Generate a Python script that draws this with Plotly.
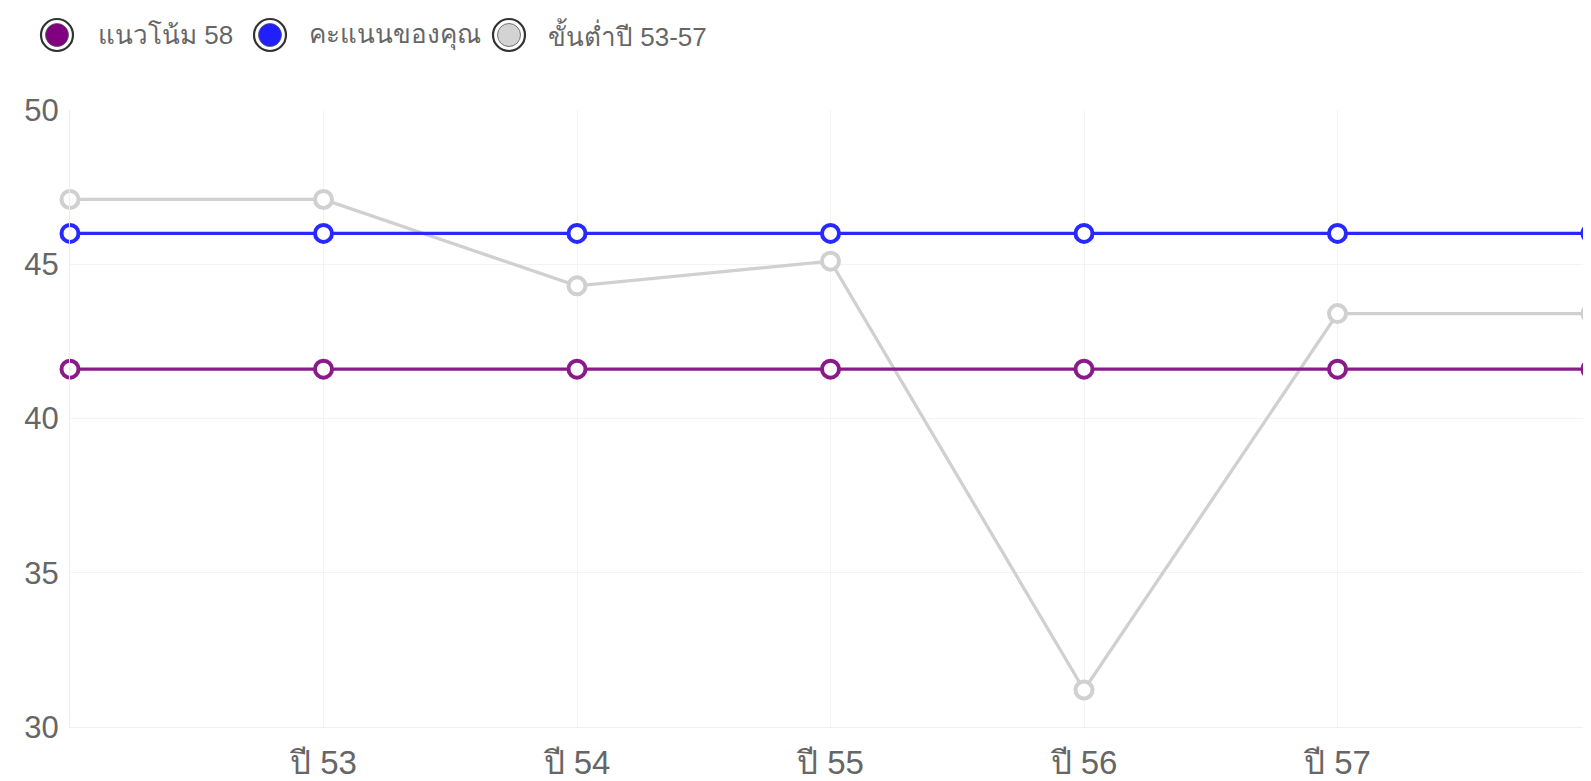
import plotly.graph_objects as go

categories = ["", "ปี 53", "ปี 54", "ปี 55", "ปี 56", "ปี 57", ""]
trend_58 = [41.6, 41.6, 41.6, 41.6, 41.6, 41.6, 41.6]
your_score = [46.0, 46.0, 46.0, 46.0, 46.0, 46.0, 46.0]
min_53_57 = [47.1, 47.1, 44.3, 45.1, 31.2, 43.4, 43.4]

series_names = ["แนวโน้ม 58", "คะแนนของคุณ", "ขั้นต่ำปี 53-57"]
series_values = [trend_58, your_score, min_53_57]
line_colors = ["#8a1a8a", "#2828ff", "#d0d0d0"]
legend_fills = ["#800080", "#1f1fff", "#d3d3d3"]

# figure geometry (the page body adds an 8px offset, compensated here)
W, H = 1583, 773
ML, MR, MT, MB = 62, 0, 102, 54
PW, PH = W - ML - MR, H - MT - MB

def px(fx):
    return (fx - ML) / PW

def py(fy):
    return (H - MB - fy) / PH

xs = list(range(len(categories)))
fig = go.Figure()
for i in [2, 1, 0]:
    fig.add_trace(go.Scatter(
        x=xs, y=series_values[i], mode="lines+markers", name=series_names[i],
        showlegend=False,
        line=dict(color=line_colors[i], width=3.3),
        marker=dict(size=17, color="white", line=dict(color=line_colors[i], width=4)),
        cliponaxis=False,
    ))

# custom legend (larger circle symbols as in the reference)
legend_circle_x = [49, 262, 501]
legend_text_x = [88, 299, 538]
legend_y = 27
shapes = []
annotations = []
for i, name in enumerate(series_names):
    cx, cy = px(legend_circle_x[i]), py(legend_y)
    shapes.append(dict(type="circle", xref="paper", yref="paper",
                       xsizemode="pixel", ysizemode="pixel",
                       xanchor=cx, yanchor=cy, x0=-16, x1=16, y0=-16, y1=16,
                       fillcolor="white", line=dict(color="#333333", width=2.2), layer="above"))
    shapes.append(dict(type="circle", xref="paper", yref="paper",
                       xsizemode="pixel", ysizemode="pixel",
                       xanchor=cx, yanchor=cy, x0=-11.5, x1=11.5, y0=-11.5, y1=11.5,
                       fillcolor=legend_fills[i], line=dict(color="#555555", width=0.8),
                       layer="above"))
    annotations.append(dict(text=name, xref="paper", yref="paper",
                            x=px(legend_text_x[i]), y=py(legend_y),
                            xanchor="left", yanchor="middle", showarrow=False,
                            font=dict(size=26, color="#666666")))

fig.update_layout(
    width=W, height=H,
    margin=dict(l=ML, r=MR, t=MT, b=MB, autoexpand=False),
    paper_bgcolor="white", plot_bgcolor="white",
    font=dict(family="Liberation Sans, Arial, sans-serif", color="#666666"),
    showlegend=False,
    shapes=shapes, annotations=annotations,
    xaxis=dict(
        range=[0, 6], tickmode="array", tickvals=xs, ticktext=categories,
        showgrid=True, gridcolor="#f3f3f3", gridwidth=1, zeroline=False,
        showline=True, linecolor="#f0f0f0", tickfont=dict(size=33, color="#666666"), ticks="",
        ticklabelstandoff=6,
    ),
    yaxis=dict(
        range=[30, 50], tickvals=[30, 35, 40, 45, 50],
        showgrid=True, gridcolor="#f3f3f3", gridwidth=1, zeroline=False,
        showline=True, linecolor="#eeeeee", tickfont=dict(size=31, color="#666666"),
        ticks="", ticklabelstandoff=4,
    ),
)
fig.write_html("out.html")
